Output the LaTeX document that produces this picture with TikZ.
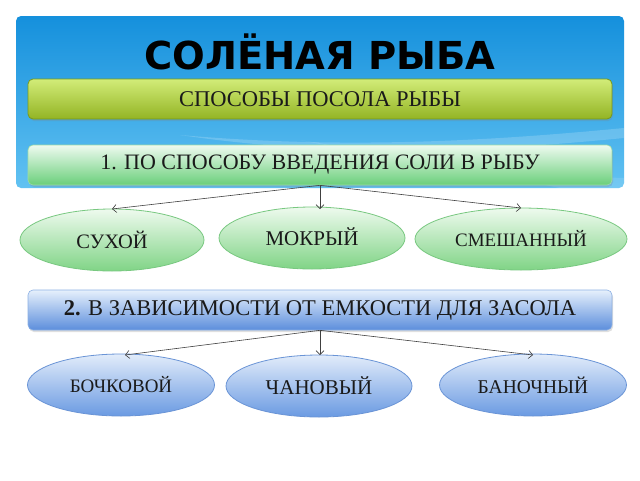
\documentclass[tikz,border=0pt]{standalone}
\usepackage{fontspec}
\setmainfont{Liberation Serif}
\newfontfamily\titlefont{DejaVu Sans}
\usetikzlibrary{shapes.geometric,shadows,arrows.meta}
\definecolor{panTop}{HTML}{1590DC}
\definecolor{panBot}{HTML}{62C2F2}
\definecolor{olTop}{HTML}{D2EC78}
\definecolor{olBot}{HTML}{93B424}
\definecolor{olLine}{HTML}{7A9A18}
\definecolor{gTop}{HTML}{EEFAF0}
\definecolor{gBot}{HTML}{6ACF7A}
\definecolor{gLine}{HTML}{9EDCA6}
\definecolor{eTop}{HTML}{EEFAEE}
\definecolor{eBot}{HTML}{80D486}
\definecolor{eLine}{HTML}{78C880}
\definecolor{bTop}{HTML}{E6F0FC}
\definecolor{bBot}{HTML}{5C8EDC}
\definecolor{bLine}{HTML}{8CB0E4}
\definecolor{beTop}{HTML}{E2ECFA}
\definecolor{beBot}{HTML}{6A9AE2}
\definecolor{beLine}{HTML}{6A94D6}
\definecolor{ink}{HTML}{1A1A1A}
\tikzset{
  bar/.style={rectangle, rounded corners=5pt, minimum width=584pt, minimum height=40pt, inner sep=0pt,
    text=ink, drop shadow={opacity=0.25, shadow xshift=1pt, shadow yshift=-2pt}},
  oval/.style={ellipse, minimum width=184pt, minimum height=62pt, inner sep=0pt, line width=0.8pt, text=ink},
  greenoval/.style={oval, top color=eTop, bottom color=eBot, draw=eLine},
  blueoval/.style={oval, top color=beTop, bottom color=beBot, draw=beLine},
  conn/.style={draw=black!75, line width=0.6pt, -{Straight Barb[length=4pt,width=8pt]}},
  bartext/.style={font=\fontsize{22.5}{22.5}\selectfont}
}
\newcommand{\fs}[1]{\fontsize{#1}{#1}\selectfont}
\begin{document}
\begin{tikzpicture}[x=1pt,y=-1pt]
\useasboundingbox (0,0) rectangle (640,480);
\fill[white] (0,0) rectangle (640,480);
% blue panel
\shade[top color=panTop, bottom color=panBot, rounded corners=5pt] (16,16) rectangle (624,188);
\begin{scope}
\clip[rounded corners=5pt] (16,16) rectangle (624,188);
\fill[white, opacity=0.18] (180,135) .. controls (350,150) and (500,140) .. (624,128) -- (624,138) .. controls (500,150) and (350,160) .. (180,135) -- cycle;
\fill[white, opacity=0.12] (300,140) .. controls (420,160) and (520,175) .. (624,178) -- (624,188) -- (560,188) .. controls (480,172) and (400,160) .. (300,140) -- cycle;
\end{scope}
\node[font=\titlefont\bfseries\fs{38.5}] (title) at (320,52) {СОЛЁНАЯ РЫБА};
\node[bar, top color=olTop, bottom color=olBot, draw=olLine, line width=0.8pt, bartext] (b1) at (320,99) {СПОСОБЫ ПОСОЛА РЫБЫ};
\node[bar, top color=gTop, bottom color=gBot, draw=gLine, line width=0.6pt, bartext, font=\fs{22}] (b2) at (320,165) {1. ПО СПОСОБУ ВВЕДЕНИЯ СОЛИ В РЫБУ};
\node[greenoval, font=\fs{20.5}, text depth=-2pt] (e1) at (112,240) {СУХОЙ};
\node[greenoval, minimum width=186pt, font=\fs{21}, text depth=2pt] (e2) at (312,238) {МОКРЫЙ};
\node[greenoval, minimum width=212pt, font=\fs{19}] (e3) at (521,239) {СМЕШАННЫЙ};
\draw[conn] (b2.south) -- (112,209);
\draw[conn] (b2.south) -- (320,209);
\draw[conn] (b2.south) -- (521,208);
\node[bar, top color=bTop, bottom color=bBot, draw=bLine, line width=0.6pt, bartext] (b3) at (320,310) {\textbf{2.} В ЗАВИСИМОСТИ ОТ ЕМКОСТИ ДЛЯ ЗАСОЛА};
\node[blueoval, minimum width=187pt, font=\fs{19}] (f1) at (121,385) {БОЧКОВОЙ};
\node[blueoval, minimum width=186pt, font=\fs{21}] (f2) at (319,386) {ЧАНОВЫЙ};
\node[blueoval, minimum width=187pt, font=\fs{19.5}] (f3) at (533,385) {БАНОЧНЫЙ};
\draw[conn] (b3.south) -- (125,355);
\draw[conn] (b3.south) -- (320,355);
\draw[conn] (b3.south) -- (533,355);
\end{tikzpicture}
\end{document}
